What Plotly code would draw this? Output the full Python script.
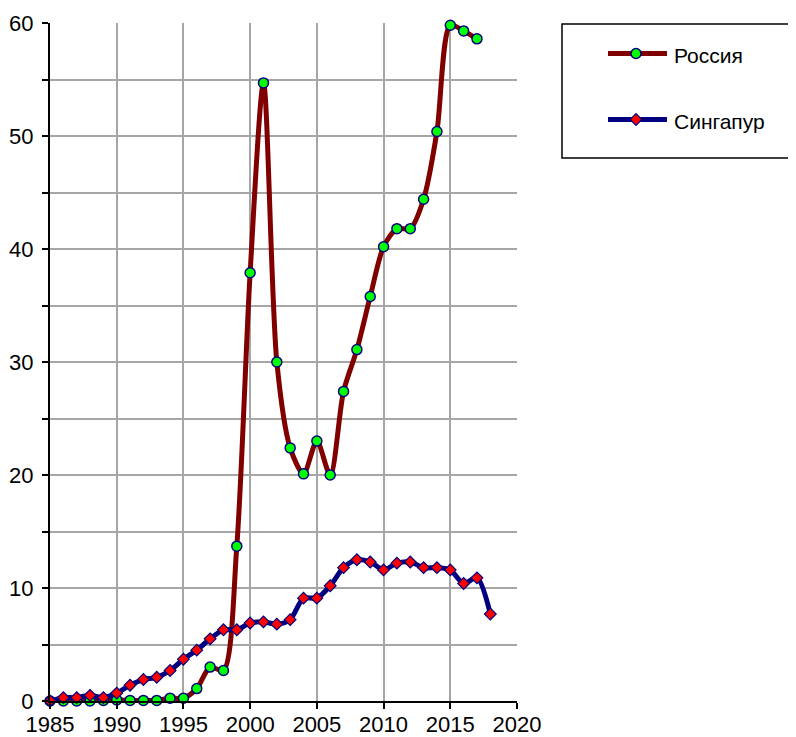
import plotly.graph_objects as go

years_russia = list(range(1985, 2018))
russia = [0, 0, 0, 0, 0.05, 0.1, 0.05, 0.05, 0.05, 0.25, 0.25, 1.1, 3.0, 2.7, 13.7,
          37.9, 54.7, 30.0, 22.4, 20.1, 23.0, 20.0, 27.4, 31.1, 35.8, 40.2, 41.8,
          41.8, 44.4, 50.4, 59.8, 59.3, 58.6]

years_singapore = list(range(1985, 2019))
singapore = [0, 0.3, 0.3, 0.5, 0.3, 0.7, 1.4, 1.9, 2.1, 2.7, 3.7, 4.5, 5.5, 6.3, 6.3,
             6.9, 7.0, 6.8, 7.2, 9.1, 9.1, 10.2, 11.8, 12.5, 12.3, 11.6, 12.2, 12.3,
             11.8, 11.8, 11.6, 10.4, 10.9, 7.7]

names = ["Россия", "Сингапур"]
x_ticks = list(range(1985, 2021, 5))
y_ticks = list(range(0, 61, 10))

FONT = "Liberation Sans, Arial, sans-serif"
W, H = 788, 729
PL, PR, PT, PB = 42, 509, 15, 693  # plot area in figure pixels

styles = [
    dict(line=dict(color="#800000", width=5),
         marker=dict(symbol="circle", size=10, color="#00ff00",
                     line=dict(color="#000080", width=1.5))),
    dict(line=dict(color="#000080", width=5),
         marker=dict(symbol="diamond", size=9, color="#ff0000",
                     line=dict(color="#000080", width=1.2))),
]

fig = go.Figure()
for xs, ys, nm, st in [(years_russia, russia, names[0], styles[0]),
                       (years_singapore, singapore, names[1], styles[1])]:
    fig.add_trace(go.Scatter(
        x=xs, y=ys, name=nm, mode="lines+markers", cliponaxis=False,
        showlegend=False,
        line=dict(st["line"], shape="spline", smoothing=0.8),
        marker=st["marker"],
    ))

# manual legend on a pixel-space overlay axis
leg_rows = [45.5, 111.5]
for nm, st, yy in zip(names, styles, leg_rows):
    fig.add_trace(go.Scatter(
        x=[600, 659], y=[yy, yy], mode="lines", line=st["line"],
        xaxis="x2", yaxis="y2", showlegend=False, hoverinfo="skip"))
    fig.add_trace(go.Scatter(
        x=[628], y=[yy], mode="markers", marker=st["marker"],
        xaxis="x2", yaxis="y2", showlegend=False, hoverinfo="skip"))
    fig.add_annotation(x=664, y=yy + 2, xref="x2", yref="y2", text=nm,
                       showarrow=False, xanchor="left", yanchor="middle",
                       font=dict(family=FONT, size=21, color="black"))

fig.add_shape(type="rect", xref="x2", yref="y2", x0=554, x1=787, y0=16, y1=150,
              line=dict(color="black", width=1.5), fillcolor="rgba(0,0,0,0)")

axis_common = dict(showgrid=True, gridcolor="#a6a6a6", gridwidth=2,
                   showline=True, linecolor="black", linewidth=2,
                   ticks="outside", ticklen=6, tickwidth=2, tickcolor="black",
                   zeroline=False, fixedrange=True, automargin=False)

fig.update_layout(
    width=W, height=H,
    margin=dict(l=0, r=0, t=0, b=0),
    paper_bgcolor="white", plot_bgcolor="rgba(0,0,0,0)",
    font=dict(family=FONT, size=22, color="black"),
    showlegend=False,
    xaxis=dict(axis_common, domain=[PL / W, PR / W], range=[1985, 2020],
               tickvals=x_ticks, ticktext=[str(v) for v in x_ticks],
               ticklabelstandoff=-3),
    yaxis=dict(axis_common, domain=[1 - PB / H, 1 - PT / H], range=[0, 60],
               tickvals=y_ticks, ticktext=[str(v) for v in y_ticks],
               minor=dict(dtick=5, showgrid=True, gridcolor="#a6a6a6", gridwidth=2,
                          ticks="outside", ticklen=6, tickwidth=2, tickcolor="black"),
               ticklabelstandoff=4),
    xaxis2=dict(domain=[0, 1], range=[0, W], visible=False, fixedrange=True,
                anchor="y2"),
    yaxis2=dict(domain=[0, 1], range=[H, 0], visible=False, fixedrange=True,
                anchor="x2"),
)

fig.write_html("out.html")
